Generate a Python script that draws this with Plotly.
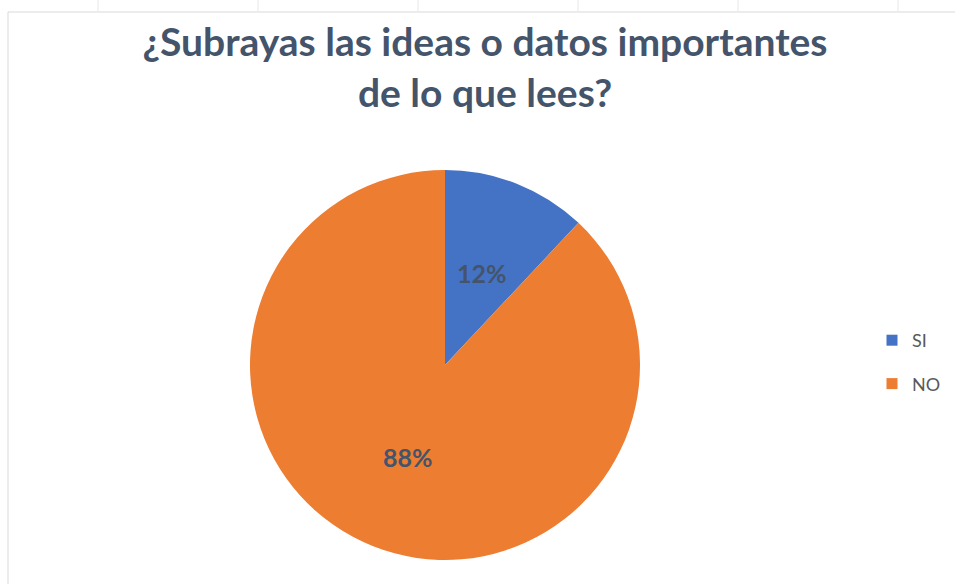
import math
import plotly.graph_objects as go

labels = ["SI", "NO"]
values = [12, 88]
colors = ["#4472C4", "#ED7D31"]
title_lines = ["¿Subrayas las ideas o datos importantes", "de lo que lees?"]
tick_x = [98, 258, 418, 578, 738, 898]

W, H = 955, 584
cx, cy, R = 445, 365, 195

fig = go.Figure()
fig.add_trace(go.Pie(
    labels=labels, values=values, sort=False, direction="clockwise", rotation=0,
    marker=dict(colors=colors, line=dict(color="white", width=0)),
    textinfo="none", showlegend=False, hoverinfo="label+percent",
    domain=dict(x=[(cx - R) / W, (cx + R) / W], y=[(H - cy - R) / H, (H - cy + R) / H]),
))
for i, (lab, col) in enumerate(zip(labels, colors)):
    fig.add_trace(go.Scatter(
        x=[None], y=[None], mode="markers", name=lab, legendgroup=lab,
        marker=dict(symbol="square", size=11, color=col),
    ))

# data labels placed along each slice's mid-angle, computed from the values
total = sum(values)
annotations = []
cum = 0
for v in values:
    mid = (cum + v / 2) / total * 2 * math.pi
    cum += v
    px = cx + 0.51 * R * math.sin(mid)
    py = cy - 0.51 * R * math.cos(mid)
    annotations.append(dict(
        x=px / W, y=1 - py / H, xref="paper", yref="paper", showarrow=False,
        xanchor="center", yanchor="middle",
        text=f"{round(v / total * 100)}%",
        font=dict(family="Lato", size=25, color="#44546A", weight="bold"),
    ))

shapes = [
    dict(type="line", xref="paper", yref="paper", x0=8 / W, x1=1, y0=1 - 12 / H, y1=1 - 12 / H,
         line=dict(color="#D9D9D9", width=1)),
    dict(type="line", xref="paper", yref="paper", x0=8 / W, x1=8 / W, y0=0, y1=1 - 12 / H,
         line=dict(color="#D9D9D9", width=1)),
]
for tx in tick_x:
    shapes.append(dict(type="line", xref="paper", yref="paper", x0=tx / W, x1=tx / W,
                       y0=1 - 12 / H, y1=1, line=dict(color="#E8E8E8", width=1)))

fig.update_layout(
    width=W, height=H, margin=dict(l=0, r=0, t=0, b=0),
    paper_bgcolor="white", plot_bgcolor="white",
    xaxis=dict(visible=False), yaxis=dict(visible=False),
    title=dict(text="<br>".join(title_lines), x=485 / W, xanchor="center", y=1 - 56 / H, yanchor="middle",
               font=dict(family="Lato", size=39, color="#44546A", weight="bold")),
    legend=dict(x=872 / W, xanchor="left", y=1 - 322 / H, yanchor="top",
                font=dict(family="Lato", size=18, color="#595959"), tracegroupgap=17,
                itemwidth=30, bgcolor="rgba(0,0,0,0)"),
    annotations=annotations,
    shapes=shapes,
)
fig.write_html("out.html", config={"displayModeBar": False},
               post_script="document.body.style.margin='0';")
